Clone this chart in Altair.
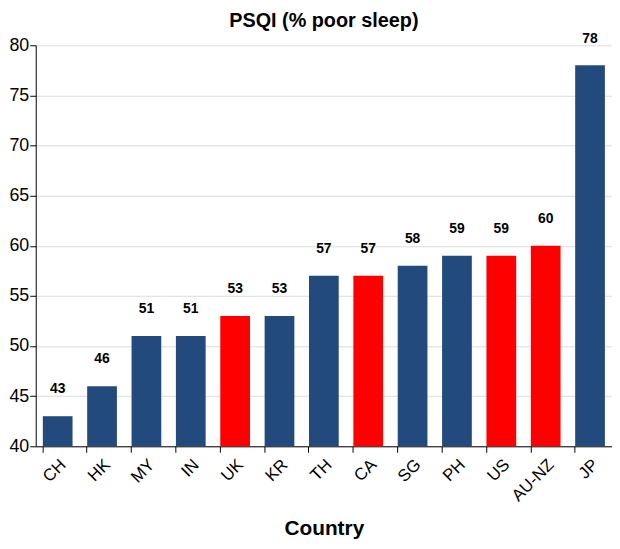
import altair as alt
import pandas as pd

countries = ["CH", "HK", "MY", "IN", "UK", "KR", "TH", "CA", "SG", "PH", "US", "AU-NZ", "JP"]
values = [43, 46, 51, 51, 53, 53, 57, 57, 58, 59, 59, 60, 78]
groups = ["Asia", "Asia", "Asia", "Asia", "West", "Asia", "Asia", "West", "Asia", "Asia", "West", "West", "Asia"]

df = pd.DataFrame({"Country": countries, "Value": values, "Group": groups})

FONT = "Liberation Sans"

x = alt.X("Country:N", sort=countries, title="Country",
          scale=alt.Scale(paddingInner=0.33, paddingOuter=0.16),
          axis=alt.Axis(labelAngle=-45, labelFontSize=17, labelColor="black",
                        bandPosition=0, tickColor="black", tickSize=6,
                        domainColor="black", titleFontSize=21, titleFontWeight="bold",
                        titlePadding=14, labelPadding=4, grid=False))
y = alt.Y("Value:Q", title=None,
          scale=alt.Scale(domain=[40, 80], zero=False, nice=False),
          axis=alt.Axis(values=[40, 45, 50, 55, 60, 65, 70, 75, 80], labelFontSize=18,
                        labelColor="black", tickColor="black", tickSize=6,
                        domainColor="black", gridColor="#dcdcdc", labelPadding=1))

bars = alt.Chart(df).mark_bar().encode(
    x=x, y=y, y2=alt.datum(40),
    color=alt.Color("Group:N", scale=alt.Scale(domain=["Asia", "West"], range=["#234a7c", "#ff0000"]), legend=None),
)

labels = alt.Chart(df).mark_text(fontSize=14, fontWeight="bold", color="black", baseline="middle", dy=-27, font=FONT).encode(
    x=alt.X("Country:N", sort=countries),
    y=alt.Y("Value:Q"),
    text="Value:Q",
)

chart = alt.layer(bars, labels).properties(
    width=582, height=405,
    title=alt.Title("PSQI (% poor sleep)", fontSize=20, fontWeight="bold", font=FONT, color="black", offset=1),
    padding={"left": 0, "top": 0, "right": 0, "bottom": 0},
).configure_view(stroke=None).configure_axis(labelFont=FONT, titleFont=FONT, titleColor="black")

chart.save("out.html", embed_options={"renderer": "svg", "actions": False})
